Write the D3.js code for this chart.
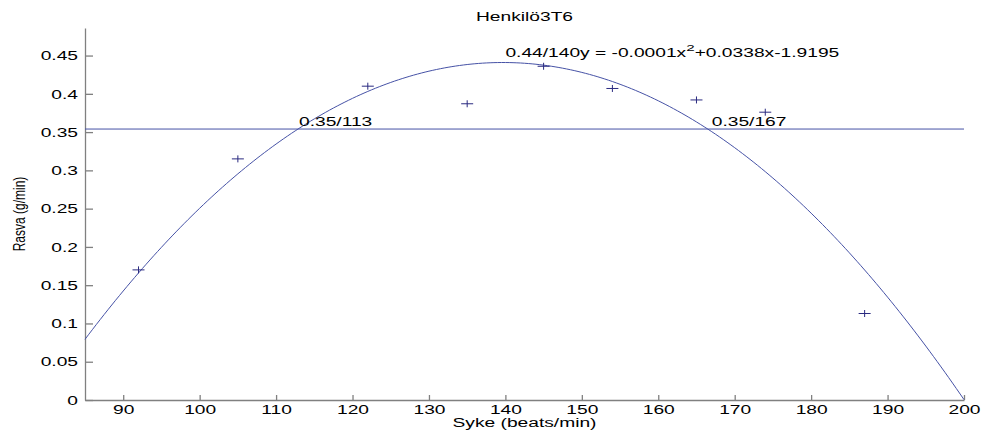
<!DOCTYPE html>
<html>
<head>
<meta charset="utf-8">
<script src="https://cdn.jsdelivr.net/npm/d3@7"></script>
<style>
  html, body { margin: 0; padding: 0; background: #ffffff; }
  svg { display: block; }
  text { font-family: "Liberation Sans", Arial, Helvetica, sans-serif; fill: #000; }
</style>
</head>
<body>
<svg id="chart" width="981" height="430"></svg>
<script>
// Measured heart rate (beats/min) and fat oxidation (g/min)
const heartRate = [92, 105, 122, 135, 145, 154, 165, 174, 187];
const fatRate   = [0.170, 0.315, 0.410, 0.387, 0.436, 0.407, 0.392, 0.376, 0.113];

// Second-order fit: y = a*x^2 + b*x + c
const fitCoefficients = [-0.000121, 0.0338, -1.9195];
const fitRange = [85, 200];

// Reference level and where the fit crosses it
const referenceLevel = 0.354;
const crossings = [
  { x: 113, label: "0.35/113" },
  { x: 167, label: "0.35/167" }
];
const peak = { x: 140, label: "0.44/140" };
const equationParts = ["y = -0.0001x", "2", "+0.0338x-1.9195"];

const xTicks = [90, 100, 110, 120, 130, 140, 150, 160, 170, 180, 190, 200];
const yTicks = [0, 0.05, 0.1, 0.15, 0.2, 0.25, 0.3, 0.35, 0.4, 0.45];
const yTickLabels = ["0", "0.05", "0.1", "0.15", "0.2", "0.25", "0.3", "0.35", "0.4", "0.45"];

const titleText = "Henkilö3T6";
const xLabelText = "Syke (beats/min)";
const yLabelText = "Rasva (g/min)";

// Layout
const plotLeft = 85, plotRight = 964, plotTop = 28, plotBottom = 400;
const FS = 12;       // font size
const SX = 1.6;      // horizontal text stretch
const lineColor = "#4652a6";
const markColor = "#2a2a80";
const axisColor = "#808080";

const svg = d3.select("#chart");

const x = d3.scaleLinear().domain([85, 200]).range([plotLeft, plotRight]);
const y = d3.scaleLinear().domain([0, 0.486]).range([plotBottom, plotTop]);

function stretchedText(sel, px, py, str, anchor) {
  return sel.append("text")
    .attr("transform", `translate(${px},${py}) scale(${SX},1)`)
    .attr("text-anchor", anchor)
    .style("font-size", FS + "px")
    .text(str);
}

// Axes (inward ticks, no box)
const xAxis = d3.axisBottom(x)
  .tickValues(xTicks)
  .tickFormat(d3.format("d"))
  .tickSizeInner(-5)
  .tickSizeOuter(0)
  .tickPadding(0);

const gx = svg.append("g")
  .attr("transform", `translate(0,${plotBottom})`)
  .call(xAxis);
gx.select(".domain").attr("stroke", axisColor).attr("stroke-width", 1.3);
gx.selectAll(".tick line").attr("stroke", axisColor).attr("stroke-width", 1.3);
gx.selectAll(".tick text")
  .attr("y", 0).attr("dy", null)
  .attr("transform", `translate(0,14) scale(${SX},1)`)
  .style("font-size", FS + "px")
  .style("font-family", "Liberation Sans, Arial, sans-serif")
  .attr("fill", "#000");

const yAxis = d3.axisLeft(y)
  .tickValues(yTicks)
  .tickFormat((d, i) => yTickLabels[i])
  .tickSizeInner(-8)
  .tickSizeOuter(0)
  .tickPadding(0);

const gy = svg.append("g")
  .attr("transform", `translate(${plotLeft},0)`)
  .call(yAxis);
gy.select(".domain").attr("stroke", axisColor).attr("stroke-width", 1.3);
gy.selectAll(".tick line").attr("stroke", axisColor).attr("stroke-width", 1.3);
gy.selectAll(".tick text")
  .attr("x", 0).attr("dy", "0.35em")
  .attr("transform", `translate(-7,0) scale(${SX},1)`)
  .style("font-size", FS + "px")
  .style("font-family", "Liberation Sans, Arial, sans-serif")
  .attr("fill", "#000");

// Reference level
svg.append("line")
  .attr("x1", x(fitRange[0])).attr("x2", x(fitRange[1]))
  .attr("y1", y(referenceLevel)).attr("y2", y(referenceLevel))
  .attr("stroke", lineColor).attr("stroke-width", 1);

// Fitted curve
const [a, b, c] = fitCoefficients;
const fitPts = d3.range(fitRange[0], fitRange[1] + 0.25, 0.5)
  .map(v => [v, Math.max(0, a * v * v + b * v + c)]);
svg.append("path")
  .datum(fitPts)
  .attr("fill", "none")
  .attr("stroke", lineColor)
  .attr("stroke-width", 1)
  .attr("d", d3.line().x(d => x(d[0])).y(d => y(d[1])));

// Measured points as "+" markers
const plus = svg.append("g").selectAll("g")
  .data(heartRate.map((h, i) => [h, fatRate[i]]))
  .join("g")
  .attr("transform", d => `translate(${x(d[0])},${y(d[1])})`);
plus.append("line").attr("x1", -6).attr("x2", 6).attr("y1", 0).attr("y2", 0)
  .attr("stroke", markColor).attr("stroke-width", 1);
plus.append("line").attr("x1", 0).attr("x2", 0).attr("y1", -3.5).attr("y2", 3.5)
  .attr("stroke", markColor).attr("stroke-width", 1);

// Crossing labels
crossings.forEach(cr => {
  stretchedText(svg, x(cr.x), y(referenceLevel) - 3, cr.label, "start");
});

// Peak and equation label
const eq = svg.append("text")
  .attr("transform", `translate(${x(peak.x)},57) scale(${SX},1)`)
  .attr("text-anchor", "start")
  .style("font-size", FS + "px");
eq.append("tspan").text(peak.label);
eq.append("tspan").text(equationParts[0]);
eq.append("tspan").attr("dy", -6).style("font-size", "9.5px").text(equationParts[1]);
eq.append("tspan").attr("dy", 6).text(equationParts[2]);

// Title and axis labels
stretchedText(svg, (plotLeft + plotRight) / 2, 21, titleText, "middle");
stretchedText(svg, (plotLeft + plotRight) / 2, 426.5, xLabelText, "middle");
svg.append("text")
  .attr("transform", `translate(25,${(plotTop + plotBottom) / 2}) scale(1.45,1) rotate(-90)`)
  .attr("text-anchor", "middle")
  .style("font-size", "12px")
  .text(yLabelText);
</script>
</body>
</html>
